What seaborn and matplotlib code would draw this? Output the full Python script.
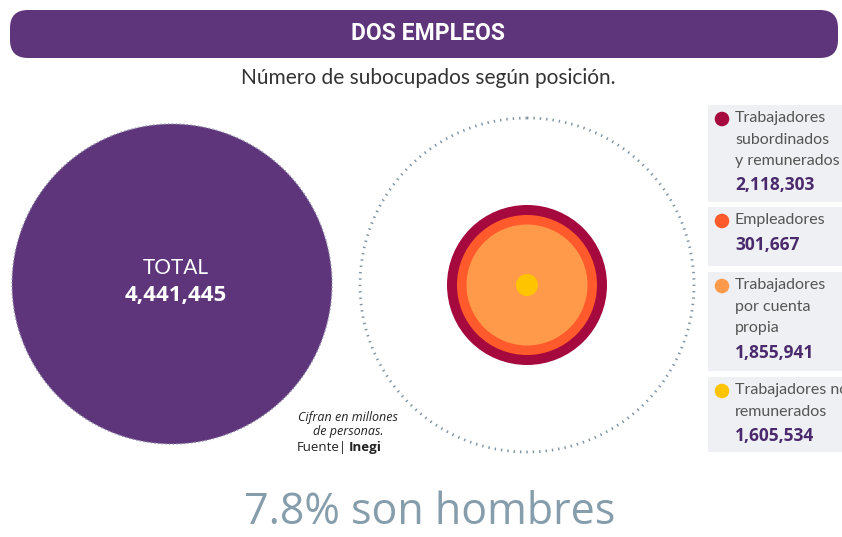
import matplotlib.pyplot as plt
import seaborn as sns
from matplotlib.patches import Circle, FancyBboxPatch, Rectangle

# Data
categories = ["Trabajadores\nsubordinados\ny remunerados", "Empleadores",
              "Trabajadores\npor cuenta\npropia", "Trabajadores no\nremunerados"]
values = [2118303, 301667, 1855941, 1605534]
total = 4441445
colors = ["#A6093D", "#FF5A2B", "#FF9A4A", "#FFC400"]

purple = "#5E357B"
num_purple = "#4A2A6D"

sns.set_theme(style="white")
plt.rcParams["font.family"] = ["Open Sans", "DejaVu Sans"]

fig = plt.figure(figsize=(8.42, 5.37), dpi=100)
ax = fig.add_axes([0, 0, 1, 1])
ax.set_xlim(0, 842)
ax.set_ylim(537, 0)
ax.axis("off")

# header
ax.add_patch(FancyBboxPatch((10, 10), 828, 48, boxstyle="round,pad=0,rounding_size=18",
                            fc=purple, ec="none"))
ax.text(428, 34, "DOS EMPLEOS", color="white", fontsize=16.5, fontweight="bold",
        family="Roboto", ha="center", va="center")
ax.text(428, 78, "Número de subocupados según posición.", color="#333333",
        fontsize=15, family="Lato", ha="center", va="center")

# total circle
ax.add_patch(Circle((172, 284), 160, fc=purple, ec="#8E8AA8", lw=1, ls=":"))
ax.text(176, 268, "TOTAL", color="white", fontsize=15, family="Lato",
        ha="center", va="center")
ax.text(176, 296, f"{total:,}", color="white", fontsize=16, fontweight="bold",
        ha="center", va="center")

# dotted frame circle and nested circles
ax.add_patch(Circle((527, 285), 167, fc="none", ec="#7F93A3", lw=2, ls=(0, (0.5, 1.8))))
radii = [80, 70, 60.5, 11]
for c, r in zip(colors, radii):
    ax.add_patch(Circle((527, 285), r, fc=c, ec="none"))

# notes
ax.text(348, 424, "Cifran en millones\nde personas.", fontsize=9, style="italic",
        color="#222222", ha="center", va="center", linespacing=1.1)
ax.text(347, 447, "Fuente|", fontsize=9.5, color="#222222", ha="right", va="center")
ax.text(349, 447, "Inegi", fontsize=9.5, color="#222222", fontweight="bold",
        ha="left", va="center")

# legend boxes
box_top = [105, 207, 272, 377]
box_bot = [202, 266, 371, 452]
line_h = 21.5
bullet_x, bullet_y = [], []
for cat, v, top, bot in zip(categories, values, box_top, box_bot):
    ax.add_patch(Rectangle((708, top), 140, bot - top, fc="#EEF0F3", ec="none"))
    lines = cat.split("\n")
    y0 = top + 13
    bullet_x.append(722)
    bullet_y.append(y0 + 1)
    for i, ln in enumerate(lines):
        ax.text(735, y0 + i * line_h, ln, fontsize=11.5, color="#555555",
                family="Lato", ha="left", va="center")
    ax.text(735, y0 + len(lines) * line_h + 3, f"{v:,}", fontsize=12.5,
            fontweight="bold", color=num_purple, ha="left", va="center")

sns.scatterplot(x=bullet_x, y=bullet_y, hue=categories, palette=colors, s=110,
                linewidth=0, legend=False, ax=ax, zorder=5)

ax.text(430, 513, "7.8% son hombres", fontsize=31, color="#869DAB",
        ha="center", va="center")

fig.savefig("out.png", dpi=100)
